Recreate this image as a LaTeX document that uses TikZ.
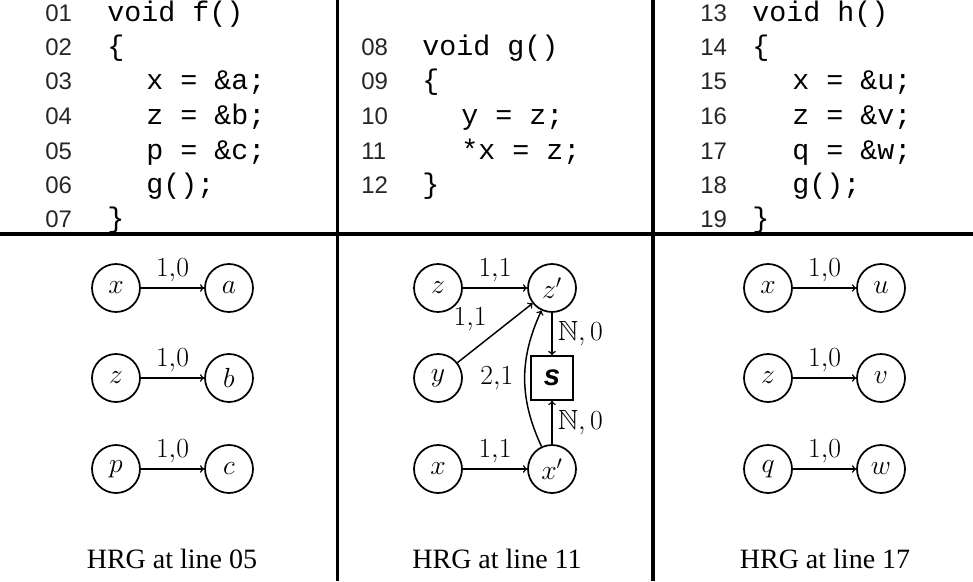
\documentclass[tikz,border=0pt]{standalone}
\usepackage[no-math]{fontspec}
\usepackage{amssymb}
\setmainfont{Liberation Serif}
\setsansfont{Liberation Sans}
\setmonofont{Liberation Mono}
\begin{document}
\begin{tikzpicture}[x=0.75pt,y=-0.75pt,
  num/.style={font=\sffamily\fontsize{18}{20}\selectfont, text=black!85, inner sep=0pt, anchor=base west},
  code/.style={font=\ttfamily\fontsize{21.25}{24}\selectfont, inner sep=0pt, anchor=base west},
  var/.style={circle, draw, line width=1.3pt, minimum size=36pt, inner sep=0pt, font=\fontsize{20.74}{25}\selectfont},
  sbox/.style={rectangle, draw, line width=1.3pt, minimum width=31pt, minimum height=33pt, inner sep=0pt, font=\sffamily\bfseries\itshape\fontsize{22}{25}\selectfont},
  edge/.style={->, line width=1.1pt},
  lbl/.style={font=\fontsize{20.74}{25}\selectfont, inner sep=4pt},
  captxt/.style={font=\fontsize{21}{24}\selectfont, anchor=base, inner sep=0pt},
  rule/.style={line width=2.3pt}
]
\useasboundingbox (0,0) rectangle (973,581);
% table rules
\draw[rule] (0,234) -- (973,234);
\draw[rule] (337.5,0) -- (337.5,581);
\draw[rule] (653,0) -- (653,581);

% column 1 code
\node[num] (n01) at (45,22) {01};   \node[code] (c01) at (107,22) {void f()};
\node[num] (n02) at (45,56) {02};   \node[code] (c02) at (107,56) {\{};
\node[num] (n03) at (45,90) {03};   \node[code] (c03) at (146,90) {x = \&a;};
\node[num] (n04) at (45,125) {04};  \node[code] (c04) at (146,125) {z = \&b;};
\node[num] (n05) at (45,159) {05};  \node[code] (c05) at (146,159) {p = \&c;};
\node[num] (n06) at (45,193) {06};  \node[code] (c06) at (146,193) {g();};
\node[num] (n07) at (45,227) {07};  \node[code] (c07) at (107,227) {\}};

% column 2 code
\node[num] (n08) at (361,56) {08};  \node[code] (c08) at (422,56) {void g()};
\node[num] (n09) at (361,90) {09};  \node[code] (c09) at (422,90) {\{};
\node[num] (n10) at (361,125) {10}; \node[code] (c10) at (461,125) {y = z;};
\node[num] (n11) at (361,159) {11}; \node[code] (c11) at (461,159) {*x = z;};
\node[num] (n12) at (361,193) {12}; \node[code] (c12) at (422,193) {\}};

% column 3 code
\node[num] (n13) at (700,22) {13};  \node[code] (c13) at (752,22) {void h()};
\node[num] (n14) at (700,56) {14};  \node[code] (c14) at (752,56) {\{};
\node[num] (n15) at (700,90) {15};  \node[code] (c15) at (792,90) {x = \&u;};
\node[num] (n16) at (700,125) {16}; \node[code] (c16) at (792,125) {z = \&v;};
\node[num] (n17) at (700,159) {17}; \node[code] (c17) at (792,159) {q = \&w;};
\node[num] (n18) at (700,193) {18}; \node[code] (c18) at (792,193) {g();};
\node[num] (n19) at (700,227) {19}; \node[code] (c19) at (752,227) {\}};

% column 1 graph
\node[var] (ax) at (116,288) {$x$};
\node[var] (aa) at (229,288) {$a$};
\node[var] (az) at (116,378) {$z$};
\node[var] (ab) at (229,378) {$b$};
\node[var] (ap) at (116,469) {$p$};
\node[var] (ac) at (229,469) {$c$};
\draw[edge] (ax) -- node[lbl,above] {$1{,}0$} (aa);
\draw[edge] (az) -- node[lbl,above] {$1{,}0$} (ab);
\draw[edge] (ap) -- node[lbl,above] {$1{,}0$} (ac);

% column 2 graph
\node[var] (bz) at (438,288) {$z$};
\node[var] (bzp) at (552,288) {$z'$};
\node[var] (by) at (438,378) {$y$};
\node[sbox] (bs) at (552,378) {s};
\node[var] (bx) at (438,469) {$x$};
\node[var] (bxp) at (552,469) {$x'$};
\draw[edge] (bz) -- node[lbl,above] {$1{,}1$} (bzp);
\draw[edge] (by) -- node[lbl,above left,pos=0.45,inner sep=3pt] {$1{,}1$} (bzp);
\draw[edge] (bx) -- node[lbl,above] {$1{,}1$} (bxp);
\draw[edge] (bxp) to[out=115,in=245] node[lbl,left,midway,inner sep=8pt] {$2{,}1$} (bzp);
\draw[edge] (bzp) -- node[lbl,right,inner sep=4pt] {$\mathbb{N},0$} (bs);
\draw[edge] (bxp) -- node[lbl,right,inner sep=4pt] {$\mathbb{N},0$} (bs);

% column 3 graph
\node[var] (cx) at (768,288) {$x$};
\node[var] (cu) at (881,288) {$u$};
\node[var] (cz) at (768,378) {$z$};
\node[var] (cv) at (881,378) {$v$};
\node[var] (cq) at (768,469) {$q$};
\node[var] (cw) at (881,469) {$w$};
\draw[edge] (cx) -- node[lbl,above] {$1{,}0$} (cu);
\draw[edge] (cz) -- node[lbl,above] {$1{,}0$} (cv);
\draw[edge] (cq) -- node[lbl,above] {$1{,}0$} (cw);

% captions
\node[captxt] (cap1) at (172,568) {HRG at line 05};
\node[captxt] (cap2) at (497,568) {HRG at line 11};
\node[captxt] (cap3) at (825,568) {HRG at line 17};
\end{tikzpicture}
\end{document}
